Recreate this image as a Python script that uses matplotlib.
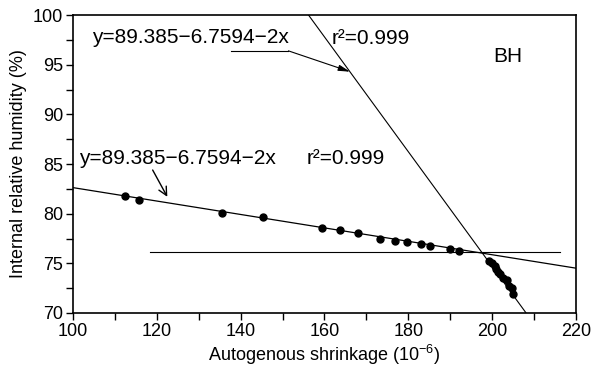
import matplotlib
matplotlib.use("Agg")
import matplotlib.pyplot as plt
import numpy as np

plt.rcParams['font.family'] = ['Liberation Sans', 'DejaVu Sans']
plt.rcParams['mathtext.default'] = 'regular'

# measured points, stage 1 (shallow) and stage 2 (steep)
shallow_x = [112.4, 115.8, 135.5, 145.3, 159.4, 163.7, 167.9, 173.2, 176.9, 179.6, 183.1, 185.2, 190.0, 192.2]
shallow_y = [81.8, 81.4, 80.1, 79.7, 78.6, 78.4, 78.1, 77.5, 77.3, 77.1, 76.9, 76.7, 76.4, 76.2]
steep_x = [199.3, 200.0, 200.6, 201.0, 201.5, 201.9, 202.6, 203.5, 204.1, 204.8, 204.9]
steep_y = [75.2, 75.0, 74.7, 74.4, 74.1, 73.9, 73.5, 73.3, 72.7, 72.5, 71.9]

# fitted lines
fit1_intercept, fit1_slope = 89.385, -0.067594
fit1_range = [100, 220]
fit2_x = [156.2, 208.1]
fit2_y = [100.0, 70.0]
level_x = [118.4, 216.2]
level_y = 76.1

eq_text = "y=89.385\u22126.7594\u22122x"
r2_text = "r\u00b2=0.999"

fig = plt.figure(figsize=(6.05, 3.78), dpi=100)
ax = fig.add_axes([0.1207, 0.172, 0.8313, 0.788])

xs = np.array(fit1_range, dtype=float)
ax.plot(xs, fit1_intercept + fit1_slope * xs, color='black', lw=0.9)
ax.plot(fit2_x, fit2_y, color='black', lw=0.8)
ax.plot(level_x, [level_y, level_y], color='black', lw=0.8)

ax.plot(shallow_x, shallow_y, 'o', color='black', ms=5)
ax.plot(steep_x, steep_y, 'o', color='black', ms=5)

ax.set_xlim(100, 220)
ax.set_ylim(70, 100)
ax.set_xticks(np.arange(100, 221, 20))
ax.set_xticks(np.arange(110, 220, 20), minor=True)
ax.set_yticks(np.arange(70, 101, 5))
ax.set_yticks(np.arange(72.5, 100, 5), minor=True)
ax.tick_params(axis='both', which='both', direction='out', length=5, width=1, labelsize=13, pad=2)
for s in ax.spines.values():
    s.set_linewidth(1.2)

ax.set_xlabel("Autogenous shrinkage (10$^{-6}$)", fontsize=13, labelpad=2)
ax.set_ylabel("Internal relative humidity (%)", fontsize=13, labelpad=4)

# upper annotation (steep line)
ax.text(104.6, 97.7, eq_text, fontsize=15, va='center', ha='left')
ax.text(161.7, 97.6, r2_text, fontsize=15, va='center', ha='left')
ax.plot([137.8, 151.4], [96.4, 96.4], color='black', lw=0.8)
ax.annotate("", xy=(166.1, 94.3), xytext=(151.4, 96.4),
            arrowprops=dict(arrowstyle='-|>,head_length=0.7,head_width=0.18', color='black', lw=0.8,
                            shrinkA=0, shrinkB=0))
# lower annotation (shallow line)
ax.text(101.4, 85.6, eq_text, fontsize=15, va='center', ha='left')
ax.text(155.8, 85.6, r2_text, fontsize=15, va='center', ha='left')
ax.annotate("", xy=(122.5, 81.7), xytext=(119.0, 84.4),
            arrowprops=dict(arrowstyle='->,head_length=0.6,head_width=0.3', color='black', lw=1.0,
                            shrinkA=0, shrinkB=0))

ax.text(200.2, 95.8, "BH", fontsize=15, va='center', ha='left')

fig.savefig("out.png", dpi=100)
